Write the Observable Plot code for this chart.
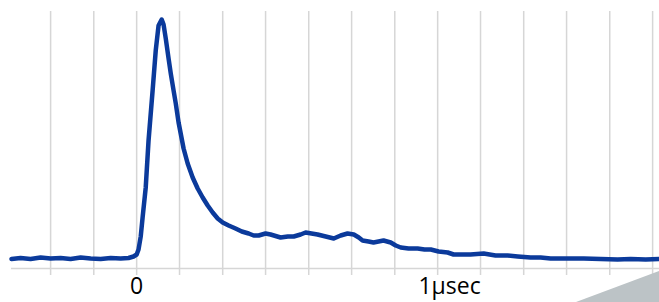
<!DOCTYPE html>
<html>
<head>
<meta charset="utf-8">
<script src="https://cdn.jsdelivr.net/npm/d3@7"></script>
<script src="https://cdn.jsdelivr.net/npm/@observablehq/plot@0.6"></script>
<style>
  html, body { margin: 0; padding: 0; background: #fff; }
  #wrap { position: relative; width: 659px; height: 302px; overflow: hidden; }
  #corner { position: absolute; right: 0; bottom: 0; width: 83px; height: 31px; background: #bcc3c6; clip-path: polygon(0 100%, 100% 0, 100% 100%); }
</style>
</head>
<body>
<div id="wrap"><div id="corner"></div></div>
<script>
// time in ns, signal in arbitrary units
const timeNs = [-400,-371,-339,-307,-275,-243,-211,-179,-147,-115,-83,-51,-26,-10,0,6,13,19,29,38,51,61,70,80,86,93,102,109,118,125,134,150,163,179,195,211,227,243,259,275,294,316,336,358,374,390,412,428,460,483,502,524,540,559,578,604,630,652,674,694,710,722,741,757,773,789,812,828,844,869,898,920,940,965,994,1013,1035,1067,1109,1147,1186,1218,1259,1291,1323,1371,1429,1483,1537,1579,1627,1671];
const signal = [9.5,10.5,9.5,11,10,10.5,9.5,11,10,9.5,10.5,10,10.5,12,14,19,32,51,81,128,178,218,243,249,244,230,210,195,178,165,146,120,105,91,80,71,63,56,50,46,43,40,37,35,33,33,35,34,31,32,32,34,36,35,34,32,30,33,35,34,31,28,27,26,27,28,26,23,21,20,20,19,19,17,16,14,14,14,15,13,13,12,11,11,10,10,10,9.5,9,9.5,9,9.5];
const gridNs = [-275,-137,0,137,275,412,550,687,825,962,1099,1237,1374,1512,1649];
const tickNs = [0, 1000];
const tickLabels = ["0", "1μsec"];

const data = timeNs.map((t, i) => ({t, v: signal[i]}));

const chart = Plot.plot({
  width: 659,
  height: 302,
  marginLeft: 11,
  marginRight: 0,
  marginTop: 11,
  marginBottom: 34,
  style: {fontFamily: "'Open Sans', sans-serif", background: "transparent", overflow: "visible"},
  x: {domain: [-400, 1671]},
  y: {domain: [0, 257]},
  marks: [
    Plot.ruleX(gridNs, {stroke: "#d6d6d6", strokeWidth: 1.5, insetBottom: -7}),
    Plot.ruleY([0], {stroke: "#d6d6d6", strokeWidth: 1.5}),
    Plot.line(data, {x: "t", y: "v", stroke: "#0b3a9b", strokeWidth: 4.5, strokeLinejoin: "round", strokeLinecap: "round"}),
    Plot.axisX(tickNs, {tickSize: 0, tickPadding: 9, fontSize: 23, fill: "#000", tickFormat: (d) => tickLabels[tickNs.indexOf(d)], label: null}),
    Plot.axisY({ticks: [], label: null, tickSize: 0})
  ]
});
chart.style.position = "absolute";
chart.style.left = "0";
chart.style.top = "0";
document.getElementById("wrap").prepend(chart);
</script>
</body>
</html>
